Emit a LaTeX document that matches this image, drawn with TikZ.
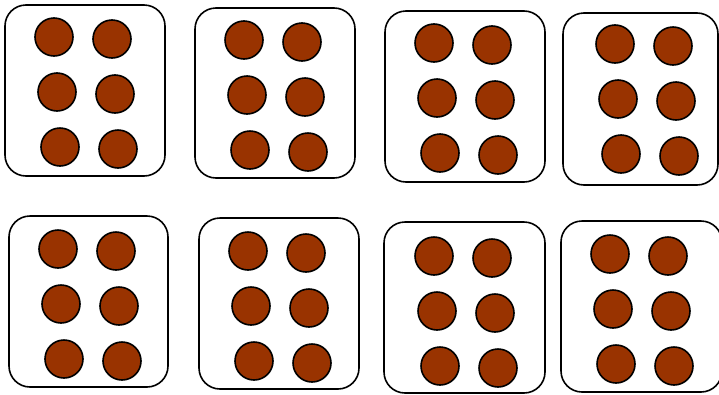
\documentclass[tikz,border=0pt]{standalone}
\usetikzlibrary{positioning}
\definecolor{pip}{HTML}{993300}
\tikzset{
  card/.style={draw=black, line width=1.6pt, rounded corners=21pt, fill=white},
  pipdot/.style={draw=black, line width=1.6pt, fill=pip}
}
\begin{document}
\begin{tikzpicture}[x=1pt, y=-1pt]
  \useasboundingbox (0,0) rectangle (719,394);
  % cards: box corners / first pip centre
  \foreach \bx/\by/\ex/\ey/\cx/\cy in {
      5/5/165/176/54/37,
      195/8/355/178/244/40,
      385/11/545/182/434/43,
      563/13/718/185/615/44,
      9/216/168/387/58/249,
      199/218/359/389/248/251,
      384/222/545/393/434/256,
      561/221/722/392/610/254}{
    \draw[card] (\bx,\by) rectangle (\ex,\ey);
    % six pips, 3 rows x 2 columns
    \foreach \dx/\dy in {0/0, 58/2, 3/55, 61/57, 6/110, 64/112}
      \draw[pipdot] (\cx+\dx,\cy+\dy) circle[radius=19pt];
  }
\end{tikzpicture}
\end{document}
